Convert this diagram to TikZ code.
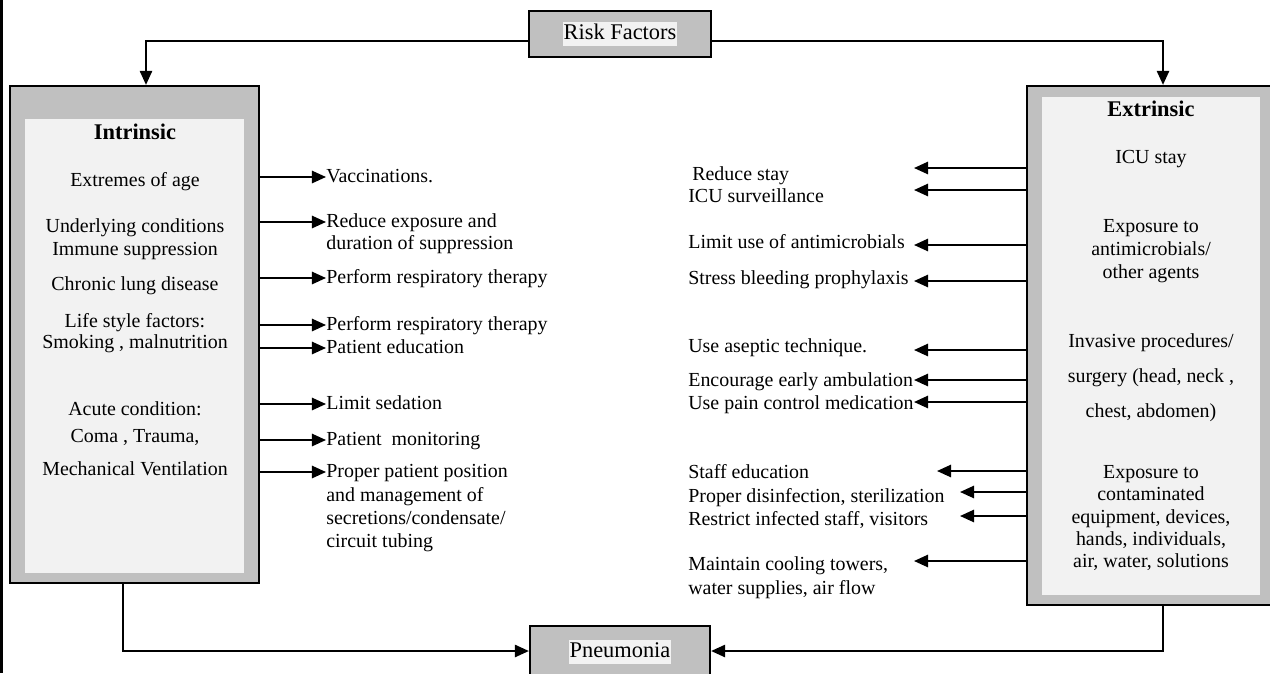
\documentclass[tikz,border=0pt]{standalone}
\usepackage{fontspec}
\setmainfont{Liberation Serif}
\usetikzlibrary{arrows.meta,fit}
\definecolor{boxgray}{HTML}{C0C0C0}
\definecolor{panel}{HTML}{F2F2F2}
\newcommand{\hilite}[1]{{\fboxsep=0.6pt\colorbox{panel}{\rule[-0.25em]{0pt}{0.95em}#1}}}
\tikzset{
  outerbox/.style={draw, line width=1.3pt, fill=boxgray, inner sep=0pt},
  innerbox/.style={fill=panel, inner sep=0pt},
  smallbox/.style={outerbox, font=\fontsize{12.75}{15}\selectfont},
}
\begin{document}
\begin{tikzpicture}[x=0.02cm,y=-0.02cm,
    font=\fontsize{11.34}{13}\selectfont,
    arr/.style={-{Triangle[length=8pt,width=7pt]}, line width=1.1pt},
    txt/.style={inner sep=0pt, text height=0.82em, text depth=0.18em},
    head/.style={txt, font=\fontsize{12.75}{15}\selectfont\bfseries}]
\useasboundingbox (0,0) rectangle (1270,673);
\clip (0,0) rectangle (1270,673);
\fill (0,0) rectangle (3,673);

% the two big boxes
\node[outerbox, fit={(10,86) (259,583)}] (intr) {};
\node[innerbox, fit={(25,119) (244,573)}] (intrin) {};
\node[outerbox, fit={(1027,86) (1272,605)}] (extr) {};
\node[innerbox, fit={(1042,97) (1260,595)}] (extrin) {};

% top and bottom boxes
\node[smallbox, minimum width=3.64cm, minimum height=0.92cm] (risk) at (620,34) {\hilite{Risk Factors}};
\node[smallbox, minimum width=3.6cm, minimum height=1.04cm] (pneu) at (620,652) {\hilite{Pneumonia}};

\draw[arr] ([yshift=-0.14cm]risk.west) -| ([xshift=0.23cm]intr.north);
\draw[arr] ([yshift=-0.14cm]risk.east) -| ([xshift=0.27cm]extr.north);
\draw[arr] ([xshift=-0.23cm]intr.south) |- ([yshift=0.02cm]pneu.west);
\draw[arr] ([xshift=0.27cm]extr.south) |- ([yshift=0.02cm]pneu.east);

% intrinsic side
\node[head] (hin) at (135,134) {Intrinsic};
\foreach \y/\t in {181/Extremes of age, 227/Underlying conditions, 250/Immune suppression,
    285/Chronic lung disease, 322/Life style factors:, 343/{Smoking , malnutrition},
    410/Acute condition:, 437/{Coma , Trauma,}, 470/Mechanical Ventilation}
  \node[txt] (l\y) at (135,\y) {\t};

\foreach \n/\y/\t in {a/177/Vaccinations., b/222/Reduce exposure and,
    c/278/Perform respiratory therapy, d/325/Perform respiratory therapy,
    e/348/Patient education, f/404/Limit sedation, g/440/Patient~ monitoring,
    h/472/Proper patient position}{
  \node[txt, anchor=west] (m\n) at (326,\y) {\t};
  \draw[arr] (intr.east |- m\n.west) -- (m\n.west);
}
\foreach \y/\t in {244/duration of suppression, 496/and management of,
    519/{secretions/condensate/}, 542/circuit tubing}
  \node[txt, anchor=west] (mm\y) at (326,\y) {\t};

% extrinsic side
\node[head] (hex) at (1151,111) {Extrinsic};
\foreach \y/\t in {158/ICU stay, 227/Exposure to, 250/{antimicrobials/}, 273/other agents,
    342/{Invasive procedures/}, 377/{surgery (head, neck ,}, 412/{chest, abdomen)},
    473/Exposure to, 495/contaminated, 518/{equipment, devices,},
    540/{hands, individuals,}, 562/{air, water, solutions}}
  \node[txt] (r\y) at (1151,\y) {\t};

\node[txt, anchor=west] (c175) at (692,175) {Reduce stay};
\foreach \y/\t in {197/ICU surveillance, 243/Limit use of antimicrobials,
    279/Stress bleeding prophylaxis, 347/Use aseptic technique.,
    381/Encourage early ambulation, 404/Use pain control medication,
    473/Staff education, 497/{Proper disinfection, sterilization},
    520/{Restrict infected staff, visitors}, 565/{Maintain cooling towers,},
    589/{water supplies, air flow}}
  \node[txt, anchor=west] (c\y) at (688,\y) {\t};

\foreach \n/\y/\x in {a/168/914, b/190/914, c/245/914, d/281/914, e/350/914,
    f/380/914, g/402/914, h/471/937, i/492/960, j/516/960, k/561/914}{
  \coordinate (t\n) at (\x,\y);
  \draw[arr] (extr.west |- t\n) -- (t\n);
}
\end{tikzpicture}
\end{document}
